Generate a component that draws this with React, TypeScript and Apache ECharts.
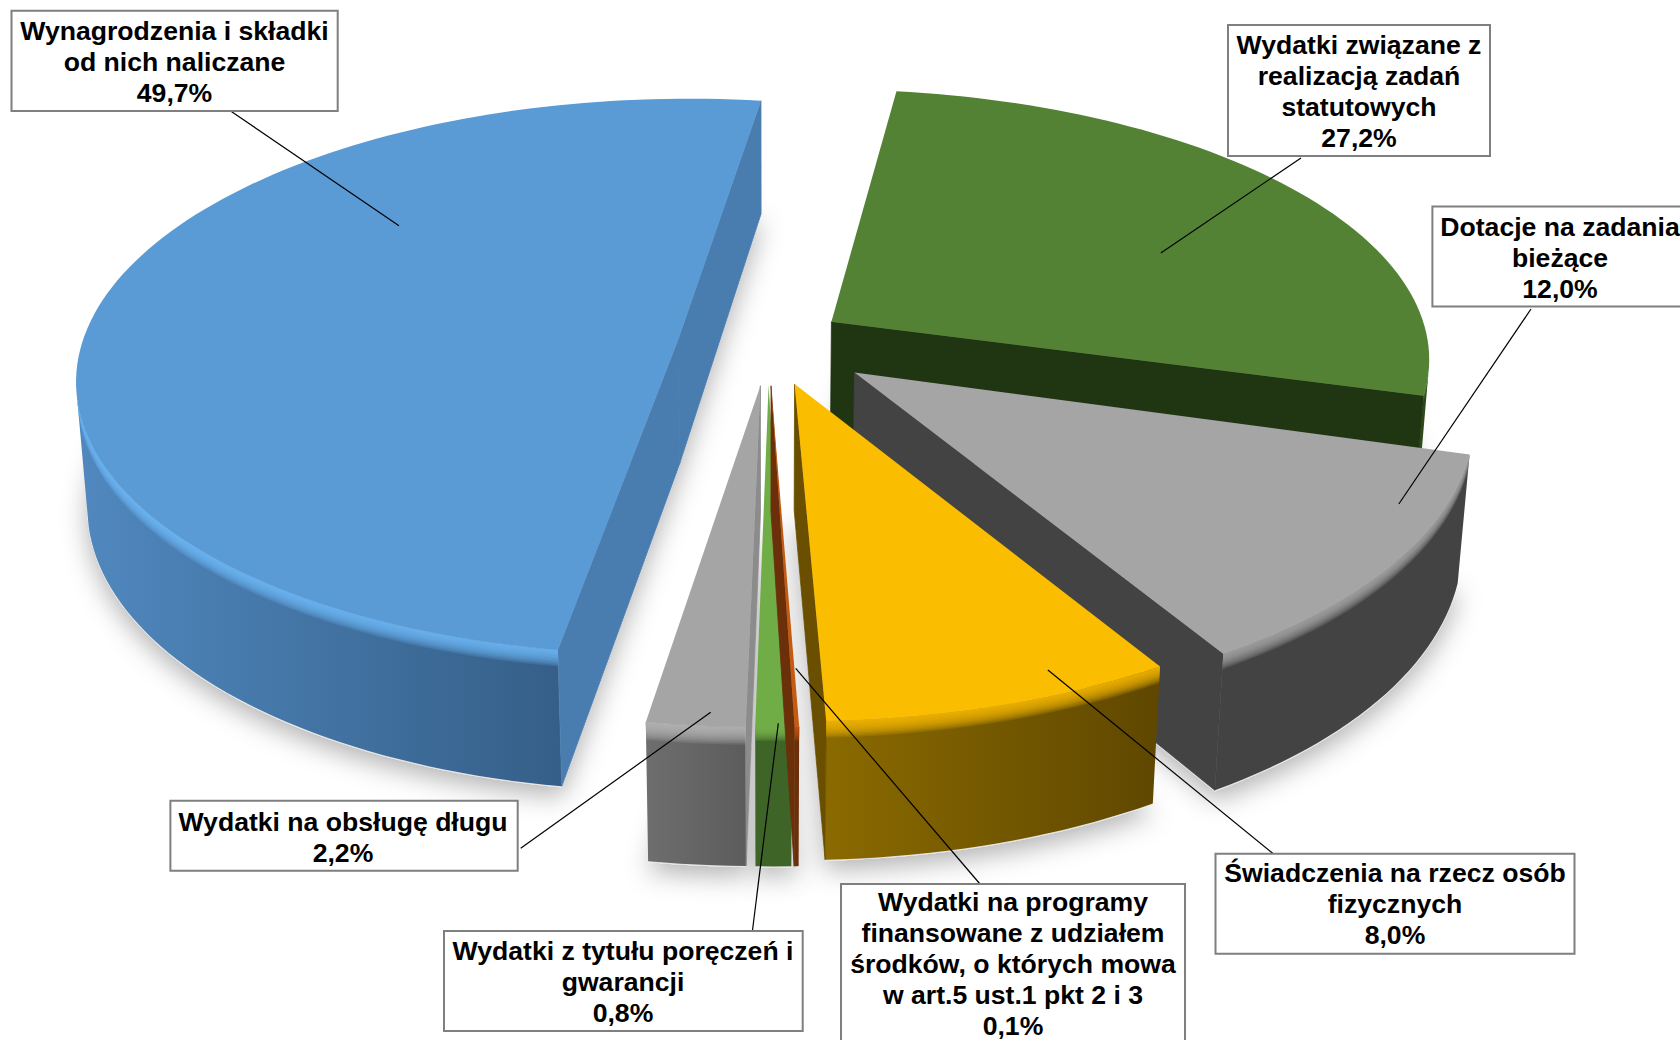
import React, { useEffect, useRef } from "react";
import * as echarts from "echarts";

// ---- data ----
const sliceNames = [
  "Wydatki związane z\nrealizacją zadań\nstatutowych",
  "Dotacje na zadania\nbieżące",
  "Świadczenia na rzecz osób\nfizycznych",
  "Wydatki na programy\nfinansowane z udziałem\nśrodków, o których mowa\nw art.5 ust.1 pkt 2 i 3",
  "Wydatki z tytułu poręczeń i\ngwarancji",
  "Wydatki na obsługę długu",
  "Wynagrodzenia i składki\nod nich naliczane",
];
const sliceValues = [27.2, 12.0, 8.0, 0.1, 0.8, 2.2, 49.7];

// ---- look of each slice, same order ----
const topColors = ["#548235", "#A5A5A5", "#FBBD00", "#C55A11", "#70AD47", "#A5A5A5", "#5B9BD5"];
const cutColors = ["#203512", "#434343", "#6A4F00", "#6B300A", "#3F6428", "#8C8C8C", "#4A7DAF"];
const wallFrom = ["#2E4A1A", "#434343", "#8A6A00", "#6B300A", "#3F6428", "#6E6E6E", "#5088BF"];
const wallTo = ["#2E4A1A", "#434343", "#5F4700", "#6B300A", "#3F6428", "#5C5C5C", "#355F88"];
const bevelColors = ["#548235", "#A5A5A5", "#FBBD00", "#C55A11", "#7CBD50", "#B9B9B9", "#6FB8FA"];
const bevelSizes = [8, 16, 17, 14, 14, 18, 17];
const explosions = [85, 105, 88, 85, 85, 85, 91];
const radiusScales = [1.003, 1.012, 1.02, 1.03, 1.03, 1.03, 1];
const depthScales = [0.975, 1.015, 1, 1, 1, 1, 1];
const nudgesX = [-7, 2, 1, 0, 0, 0, 0];
const nudgesY = [-7, -7, -3, 0, 0, 0, 0];
const drawOrder = [0, 6, 1, 2, 5, 4, 3];

// ---- label layout, same order: box, text centre, leader ----
const labelBoxes = [
  [1228, 25, 262, 131],
  [1432.4, 206.4, 264, 100],
  [1215.5, 853.8, 359, 100],
  [841, 884, 344, 190],
  [444, 931, 358.7, 100],
  [170.4, 800.7, 347.3, 70],
  [11.5, 10.7, 326.2, 100.3],
];
const labelTextCentres = [
  [1359, 91],
  [1560, 258],
  [1395, 904],
  [1013, 963.5],
  [623, 981.5],
  [343, 837],
  [174.5, 62],
];
const leaders = [
  [1301, 158, 1160.8, 252.9],
  [1531, 309, 1398.8, 504],
  [1276, 856, 1047.9, 670],
  [980, 884, 795.7, 668.3],
  [752.3, 931.7, 778.3, 723.3],
  [520.7, 848.3, 710.7, 712.3],
  [230.6, 111, 399, 225.7],
];

// ---- camera ----
const SX = 768;
const SY = 346;
const FOCAL = 4000;
const SIN_A = 0.46;
const COS_A = Math.sqrt(1 - SIN_A * SIN_A);
const RADIUS = 597;
const HEIGHT = 142;
const START_DEG = 7.9;
const STEP_DEG = 1.5;

const rad = (d: number) => (d * Math.PI) / 180;
function project(x: number, y: number, z: number): number[] {
  const depth = FOCAL - y * COS_A - z * SIN_A;
  return [SX + (FOCAL * x) / depth, SY + (FOCAL * (y * SIN_A - z * COS_A)) / depth];
}
const total = sliceValues.reduce((a, b) => a + b, 0);
function sliceAngles(i: number): number[] {
  let sum = 0;
  for (let k = 0; k < i; k++) sum += sliceValues[k];
  const a = START_DEG + (sum / total) * 360;
  return [a, a + (sliceValues[i] / total) * 360];
}
function hexRgb(h: string): number[] {
  return [parseInt(h.slice(1, 3), 16), parseInt(h.slice(3, 5), 16), parseInt(h.slice(5, 7), 16)];
}

function renderSlice(params: any, api: any) {
  const i = params.dataIndex;
  const base = 10 + drawOrder.indexOf(i) * 10;
  const [a0, a1] = sliceAngles(i);
  const value = api.value(0);
  const span = (value / total) * 360;
  const mid = a0 + span / 2;
  const ex = explosions[i];
  const ox = ex * Math.sin(rad(mid)) + nudgesX[i];
  const oy = -ex * Math.cos(rad(mid)) + nudgesY[i];
  const R = RADIUS * radiusScales[i];
  const RY = R * depthScales[i];
  const n = Math.max(1, Math.ceil(span / STEP_DEG));
  const rim: number[][] = [];
  for (let k = 0; k <= n; k++) {
    const t = a0 + (span * k) / n;
    rim.push([ox + R * Math.sin(rad(t)), oy - RY * Math.cos(rad(t)), t]);
  }
  const camY = FOCAL * COS_A;
  const front = rim.filter(
    (p) => Math.sin(rad(p[2])) * (0 - p[0]) - Math.cos(rad(p[2])) * (camY - p[1]) > 0
  );
  const children: any[] = [];
  const poly = (points: number[][], fill: any, z2: number, extra: any = {}) =>
    children.push({
      type: "polygon",
      z2,
      silent: true,
      shape: { points },
      style: { fill, ...extra },
    });

  // soft shadow on the floor
  const floor = [project(ox, oy, -HEIGHT - 1), ...rim.map((p) => project(p[0], p[1], -HEIGHT - 1))];
  poly(floor, "#E6E6E6", 1, {
    shadowBlur: 26,
    shadowColor: "rgba(0,0,0,0.30)",
    shadowOffsetX: 0,
    shadowOffsetY: 9,
  });

  // outer wall
  if (front.length > 1) {
    const topEdge = front.map((p) => project(p[0], p[1], 0));
    const botEdge = front.map((p) => project(p[0], p[1], -HEIGHT)).reverse();
    const xs = topEdge.map((p) => p[0]);
    const grad = new echarts.graphic.LinearGradient(
      Math.min(...xs), 0, Math.max(...xs), 0,
      [
        { offset: 0, color: wallFrom[i] },
        { offset: 1, color: wallTo[i] },
      ],
      true
    );
    poly([...topEdge, ...botEdge], grad, base);
  }

  // cut faces
  const cutFace = (deg: number, normalDeg: number) => {
    const nx = Math.sin(rad(normalDeg));
    const ny = -Math.cos(rad(normalDeg));
    if (nx * (0 - ox) + ny * (camY - oy) <= 0) return;
    const ex2 = ox + R * Math.sin(rad(deg));
    const ey2 = oy - RY * Math.cos(rad(deg));
    poly(
      [project(ox, oy, 0), project(ex2, ey2, 0), project(ex2, ey2, -HEIGHT), project(ox, oy, -HEIGHT)],
      cutColors[i],
      base + 1,
      { stroke: cutColors[i], lineWidth: 0.8 }
    );
  };
  cutFace(a0, a0 - 90);
  cutFace(a1, a1 + 90);

  // bevel: stacked translucent bands along the front rim
  if (front.length > 1) {
    const [r, g, b] = hexRgb(bevelColors[i]);
    const steps = 12;
    for (let s = steps; s >= 1; s--) {
      const z = -(bevelSizes[i] * s) / steps;
      const upper = front.map((p) => project(p[0], p[1], 0));
      const lower = front.map((p) => project(p[0], p[1], z)).reverse();
      poly([...upper, ...lower], `rgba(${r},${g},${b},0.16)`, base + 2);
    }
  }

  // top
  const top = [project(ox, oy, 0), ...rim.map((p) => project(p[0], p[1], 0))];
  poly(top, topColors[i], base + 3);

  return { type: "group", children };
}

function percentText(v: number) {
  return v.toFixed(1).replace(".", ",") + "%";
}

export default function App() {
  const ref = useRef<HTMLDivElement>(null);
  useEffect(() => {
    document.body.style.margin = "0";
    document.body.style.overflow = "hidden";
    const chart = echarts.init(ref.current!, null, { renderer: "svg" });
    const graphics: any[] = [];
    sliceNames.forEach((name, i) => {
      const l = leaders[i];
      graphics.push({
        type: "line",
        z: 100,
        silent: true,
        shape: { x1: l[0], y1: l[1], x2: l[2], y2: l[3] },
        style: { stroke: "#000000", lineWidth: 1.2 },
      });
      const b = labelBoxes[i];
      graphics.push({
        type: "rect",
        z: 101,
        silent: true,
        shape: { x: b[0], y: b[1], width: b[2], height: b[3] },
        style: { fill: "#FFFFFF", stroke: "#7F7F7F", lineWidth: 2 },
      });
      const c = labelTextCentres[i];
      graphics.push({
        type: "text",
        z: 102,
        silent: true,
        x: c[0],
        y: c[1],
        style: {
          text: name + "\n" + percentText(sliceValues[i]),
          align: "center",
          verticalAlign: "middle",
          fontFamily: '"Liberation Sans", Arial, sans-serif',
          fontWeight: "bold",
          fontSize: 26.6,
          lineHeight: 31,
          fill: "#000000",
        },
      });
    });
    chart.setOption({
      animation: false,
      backgroundColor: "#FFFFFF",
      series: [
        {
          type: "custom",
          coordinateSystem: "none",
          silent: true,
          clip: false,
          data: sliceValues.map((v) => [v]),
          renderItem: renderSlice,
        },
      ],
      graphic: { elements: graphics },
    });
    return () => chart.dispose();
  }, []);
  return <div ref={ref} style={{ width: 1680, height: 1040 }} />;
}
